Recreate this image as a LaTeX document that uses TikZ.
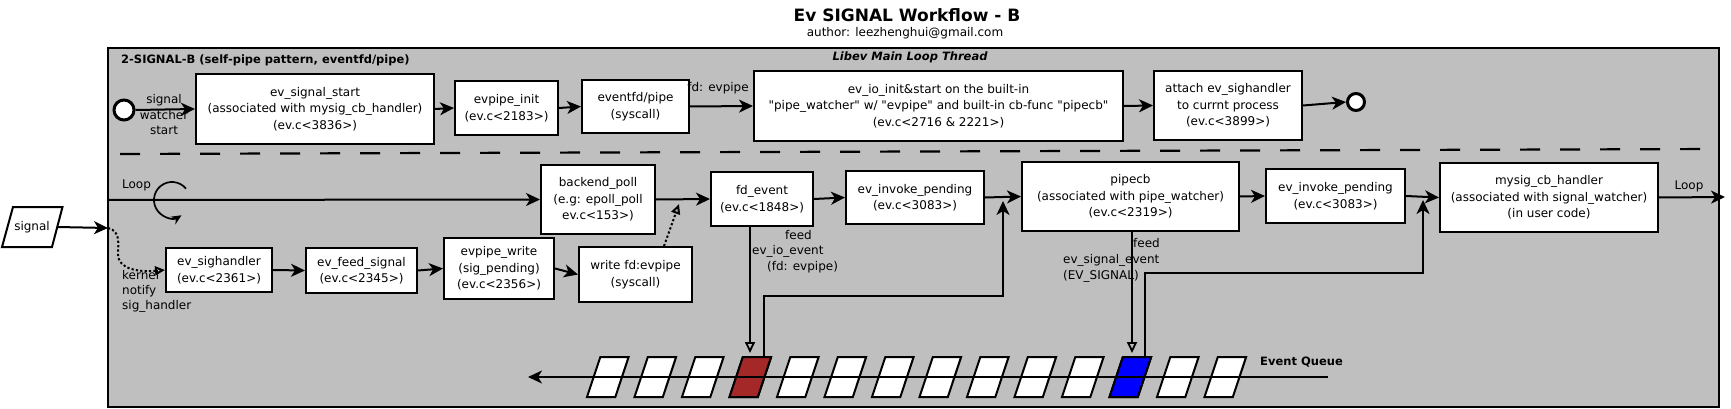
\documentclass[tikz,border=0pt]{standalone}
\usepackage{fontspec}
\setmainfont{DejaVu Sans}
\usetikzlibrary{arrows.meta,calc}
\definecolor{framegray}{RGB}{191,191,191}
\definecolor{cellred}{RGB}{165,40,40}
\definecolor{cellblue}{RGB}{0,0,255}
\begin{document}
\begin{tikzpicture}[x=1pt,y=-1pt,
 every node/.style={font=\fontsize{12}{15.5}\selectfont, inner sep=0pt},
 box/.style={draw, line width=2pt, fill=white, align=center, font=\fontsize{12}{16.5}\selectfont},
 lbl/.style={align=center},
 boldlbl/.style={font=\fontsize{11.5}{14}\selectfont\bfseries},
 conn/.style={line width=2pt, -{Stealth[length=14pt,width=13pt,inset=4pt]}},
 openconn/.style={line width=1.8pt, -{Triangle[open,length=11pt,width=10pt]}},
 dotconn/.style={line width=2pt, dash pattern=on 2.2pt off 2.2pt, -{Triangle[open,length=10pt,width=9pt]}},
 cellbox/.style={draw, line width=2pt, fill=white},
 endpt/.style={circle, draw, line width=3pt, fill=white},
]
\useasboundingbox (0,0) rectangle (1731,409);

% titles
\node[font=\fontsize{17}{20}\selectfont\bfseries] (title) at (907,15) {Ev SIGNAL Workflow - B};
\node (author) at (905,33) {author: leezhenghui@gmail.com};

% frame
\node[draw, line width=2pt, fill=framegray, minimum width=1611pt, minimum height=359pt] (frame) at (913.5,227.5) {};
\node[boldlbl, anchor=west] (grp) at (121,60) {2-SIGNAL-B (self-pipe pattern, eventfd/pipe)};
\node[font=\fontsize{11.5}{14}\selectfont\bfseries\itshape] (thr) at (910,57) {Libev Main Loop Thread};

% top row
\node[endpt, minimum size=20pt] (start) at (124,110) {};
\node[lbl] (swl) at (164,115) {signal\\watcher\\start};
\node[box, minimum width=238pt, minimum height=70pt] (ess) at (315,109) {ev\_signal\_start\\(associated with mysig\_cb\_handler)\\(ev.c<3836>)};
\node[box, minimum width=103pt, minimum height=54pt] (epi) at (506.5,108) {evpipe\_init\\(ev.c<2183>)};
\node[box, minimum width=107pt, minimum height=53pt] (efd) at (635.5,106.5) {eventfd/pipe\\(syscall)};
\node[box, minimum width=369pt, minimum height=70pt] (eio) at (938.5,106) {ev\_io\_init\&start on the built-in\\\textquotedbl pipe\_watcher\textquotedbl{} w/ \textquotedbl evpipe\textquotedbl{} and built-in cb-func \textquotedbl pipecb\textquotedbl\\(ev.c<2716 \& 2221>)};
\node[box, minimum width=148pt, minimum height=69pt] (att) at (1228,105.5) {attach ev\_sighandler\\to currnt process\\(ev.c<3899>)};
\node[endpt, minimum size=17pt] (endc) at (1356,102) {};
\node (fdl) at (718,88) {fd: evpipe};

\draw[conn] (start.east) -- (ess.west);
\draw[conn] (ess.east) -- (epi.west);
\draw[conn] (epi.east) -- (efd.west);
\draw[conn] (efd.east) -- (eio.west);
\draw[conn] (eio.east) -- (att.west);
\draw[conn] (att.east) -- (endc.west);

% separator
\coordinate (sepL) at (120,154);
\coordinate (sepR) at (1719,149);
\draw[line width=2.2pt, dash pattern=on 20pt off 20pt] (sepL) -- (sepR);

% loop row
\coordinate (loopin) at (108,200);
\coordinate (loopout) at (1725,197);
\node (loopl) at (136.5,185) {Loop};
\node (loopr) at (1689,186) {Loop};
\node[box, minimum width=114pt, minimum height=69pt] (bp) at (598,199.5) {backend\_poll\\(e.g: epoll\_poll\\ev.c<153>)};
\node[box, minimum width=102pt, minimum height=54pt] (fde) at (762,199) {fd\_event\\(ev.c<1848>)};
\node[box, minimum width=138pt, minimum height=53pt] (eip1) at (915,197.5) {ev\_invoke\_pending\\(ev.c<3083>)};
\node[box, minimum width=217pt, minimum height=69pt] (pcb) at (1130.5,196.5) {pipecb\\(associated with pipe\_watcher)\\(ev.c<2319>)};
\node[box, minimum width=139pt, minimum height=54pt] (eip2) at (1335.5,196) {ev\_invoke\_pending\\(ev.c<3083>)};
\node[box, minimum width=218pt, minimum height=69pt] (mys) at (1549,197.5) {mysig\_cb\_handler\\(associated with signal\_watcher)\\(in user code)};

\draw[conn] (loopin) -- (bp.west);
\draw[line width=1.7pt, -{Stealth[length=10pt,width=9pt]}] ($(172,200)+(-39:18)$) arc[start angle=-39, end angle=-302, radius=18];
\draw[conn] (bp.east) -- (fde.west);
\draw[conn] (fde.east) -- (eip1.west);
\draw[conn] (eip1.east) -- (pcb.west);
\draw[conn] (pcb.east) -- (eip2.west);
\draw[conn] (eip2.east) -- (mys.west);
\draw[conn] (mys.east) -- (loopout);

% signal input
\draw[line width=2pt, fill=white] (2,247) -- (52,247) -- (62.5,207) -- (13,207) -- cycle;
\node[minimum width=50pt] (sig) at (32,227) {signal};
\coordinate (sigin) at (108,228);
\draw[conn] (sig.east) -- (sigin);

% bottom row
\node[box, minimum width=106pt, minimum height=44pt] (esh) at (219,270) {ev\_sighandler\\(ev.c<2361>)};
\node[box, minimum width=111pt, minimum height=45pt] (efs) at (361.5,270.5) {ev\_feed\_signal\\(ev.c<2345>)};
\node[box, minimum width=110pt, minimum height=61pt] (epw) at (499,268.5) {evpipe\_write\\(sig\_pending)\\(ev.c<2356>)};
\node[box, minimum width=113pt, minimum height=55pt] (wfd) at (635.5,274.5) {write fd:evpipe\\(syscall)};

\draw[dotconn] (sigin) .. controls (121,231) and (118,244) .. (118,254) .. controls (118,270) and (140,272) .. (esh.west);
\node[anchor=north west, align=left, font=\fontsize{12}{15}\selectfont] (knl) at (122,270) {kernel\\notify\\sig\_handler};

\draw[conn] (esh.east) -- (efs.west);
\draw[conn] (efs.east) -- (epw.west);
\draw[conn] (epw.east) -- (wfd.west);
\coordinate (dtip) at (679,204);
\draw[dotconn] ($(wfd.north)+(28.5,0)$) -- (dtip);

% event queue cells
\foreach \k in {0,...,13}{
  \draw[cellbox] (587+47.5*\k,397) -- ++(28.3,0) -- ++(13.3,-40) -- ++(-28.3,0) -- cycle;
}
\draw[cellbox, fill=cellred] (729.5,397) -- ++(28.3,0) -- ++(13.3,-40) -- ++(-28.3,0) -- cycle;
\draw[cellbox, fill=cellblue] (1109.5,397) -- ++(28.3,0) -- ++(13.3,-40) -- ++(-28.3,0) -- cycle;
\coordinate (qstart) at (1328,377);
\coordinate (qend) at (528,377);
\draw[conn] (qstart) -- (qend);
\node[boldlbl, anchor=west] (eq) at (1260,362) {Event Queue};

% feeds into queue
\coordinate (redin) at (750,353);
\coordinate (redout) at (764,357);
\coordinate (tip1) at (1003,201);
\draw[openconn] (fde.south -| redin) -- (redin);
\draw[conn] (redout) -- ++(0,-61) -| (tip1);
\node[anchor=north west, align=left, font=\fontsize{12}{15.5}\selectfont] (feed1) at (752,230) {\hspace*{33pt}feed\\ev\_io\_event\\\hspace*{15pt}(fd: evpipe)};

\coordinate (bluein) at (1132,353);
\coordinate (blueout) at (1145,357);
\coordinate (tip2) at (1423,200);
\draw[openconn] (pcb.south -| bluein) -- (bluein);
\draw[conn] (blueout) -- ++(0,-84) -| (tip2);
\node[anchor=north west, align=left, font=\fontsize{12}{16}\selectfont] (feed2) at (1063,238) {\hspace*{70pt}feed\\ev\_signal\_event\\(EV\_SIGNAL)};
\end{tikzpicture}
\end{document}
